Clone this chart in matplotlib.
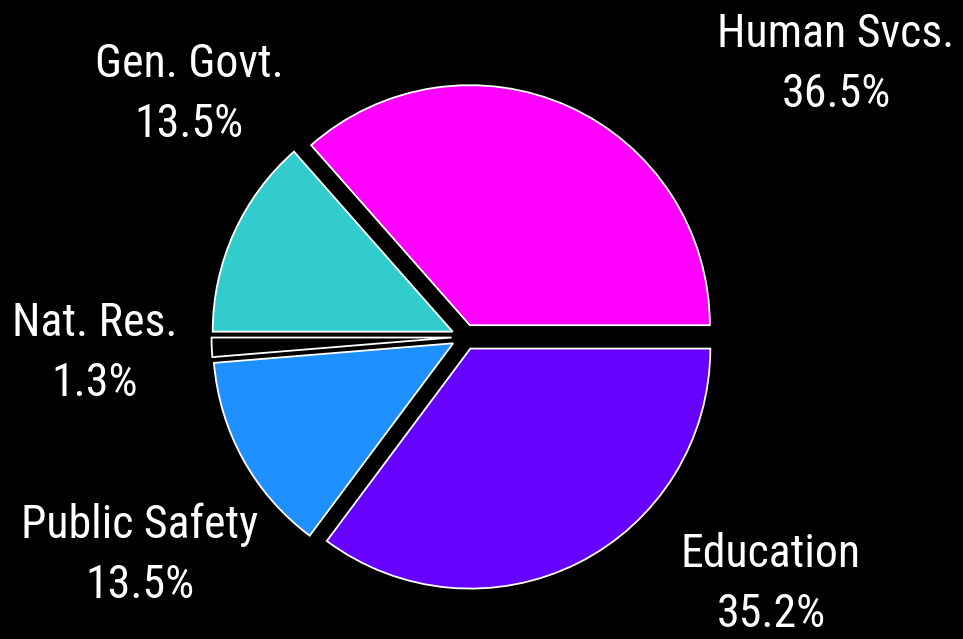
import matplotlib
matplotlib.use("Agg")
import matplotlib.pyplot as plt
from matplotlib import font_manager

categories = ["Human Svcs.", "Gen. Govt.", "Nat. Res.", "Public Safety", "Education"]
shares = [36.5, 13.5, 1.3, 13.5, 35.2]
pct_labels = ["36.5%", "13.5%", "1.3%", "13.5%", "35.2%"]
colors = ["#FF00FF", "#33CCCC", "#000000", "#1E90FF", "#6600FF"]

# label layout (pixel x-center, baseline of first line)
label_pos = [(836, 47), (189, 77), (95, 336), (140, 538), (771, 567)]
line_gap = 60

W, H = 963, 639
cx, cy, R = 464.5, 337, 240

avail = set(f.name for f in font_manager.fontManager.ttflist)
prefs = ["Liberation Sans Narrow", "Roboto Condensed", "Archivo Narrow", "Liberation Sans", "DejaVu Sans"]
fam = [f for f in prefs if f in avail] or ["DejaVu Sans"]

fig = plt.figure(figsize=(W / 100, H / 100), dpi=100, facecolor="black")
ax = fig.add_axes([0, 0, 1, 1])
ax.set_facecolor("black")
ax.pie(shares, colors=colors, startangle=0, counterclock=True,
       explode=[0.054] * len(shares), radius=1,
       wedgeprops=dict(edgecolor="white", linewidth=1.3))
ax.set_xlim(-cx / R, (W - cx) / R)
ax.set_ylim(-(H - cy) / R, cy / R)
ax.set_aspect("auto")
ax.axis("off")

for name, pct, (px, py) in zip(categories, pct_labels, label_pos):
    fig.text(px / W, 1 - py / H, name, ha="center", va="baseline",
             color="white", fontsize=33, family=fam)
    fig.text(px / W, 1 - (py + line_gap) / H, pct, ha="center", va="baseline",
             color="white", fontsize=33, family=fam)

fig.savefig("out.png", dpi=100, facecolor="black")
